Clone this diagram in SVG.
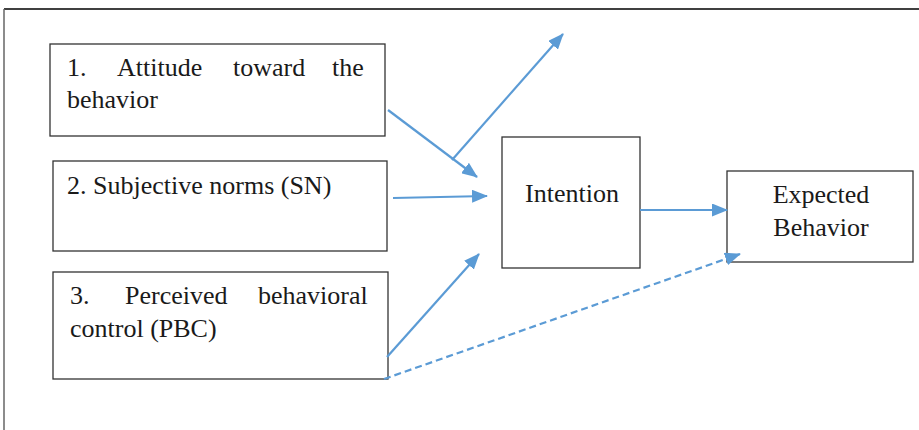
<svg xmlns="http://www.w3.org/2000/svg" width="919" height="430" viewBox="0 0 919 430">
<style>
.box{fill:#fff;stroke:#333;stroke-width:1.3}
.t{font-family:"Liberation Serif","Times New Roman","DejaVu Serif",serif;font-size:26px;fill:#1a1a1a}
.c{text-anchor:middle}
.arr{stroke:#5b9bd5;stroke-width:2.2;fill:none;marker-end:url(#ah)}
.dash{stroke-dasharray:7,4}
</style>
<defs>
<marker id="ah" markerWidth="16" markerHeight="13" refX="15" refY="6.5" orient="auto" markerUnits="userSpaceOnUse">
<path d="M0,0 L16,6.5 L0,13 Z" fill="#5b9bd5"/>
</marker>
</defs>
<rect width="919" height="430" fill="#fff"/>
<g id="frame">
<line x1="4" y1="9" x2="919" y2="9" stroke="#000" stroke-width="1.3"/>
<line x1="4" y1="9" x2="4" y2="430" stroke="#666" stroke-width="1.5"/>
</g>
<g id="node-attitude">
<rect class="box" x="50" y="44" width="335" height="92"/>
<text class="t" y="76"><tspan x="67">1.</tspan><tspan x="117">Attitude</tspan><tspan x="233">toward</tspan><tspan x="332">the</tspan></text>
<text class="t" x="67" y="108">behavior</text>
</g>
<g id="node-sn">
<rect class="box" x="53" y="161" width="334" height="90"/>
<text class="t" x="67" y="194">2. Subjective norms (SN)</text>
</g>
<g id="node-pbc">
<rect class="box" x="53" y="272" width="335" height="107"/>
<text class="t" y="304"><tspan x="70">3.</tspan><tspan x="125">Perceived</tspan><tspan x="258">behavioral</tspan></text>
<text class="t" x="70" y="337">control (PBC)</text>
</g>
<g id="node-intention">
<rect class="box" x="502" y="137" width="138" height="131"/>
<text class="t c" x="572" y="202">Intention</text>
</g>
<g id="node-behavior">
<rect class="box" x="727" y="171" width="186" height="91"/>
<text class="t c" x="821" y="203">Expected</text>
<text class="t c" x="821" y="236">Behavior</text>
</g>
<g id="connectors">
<line class="arr" x1="388" y1="110" x2="477" y2="177"/>
<line class="arr" x1="452" y1="160" x2="563" y2="34"/>
<line class="arr" x1="393" y1="198" x2="487" y2="196"/>
<line class="arr" x1="387" y1="357" x2="479" y2="254"/>
<line class="arr" x1="640" y1="210" x2="727" y2="210"/>
<line class="arr dash" x1="384" y1="379" x2="740" y2="254"/>
</g>
</svg>
